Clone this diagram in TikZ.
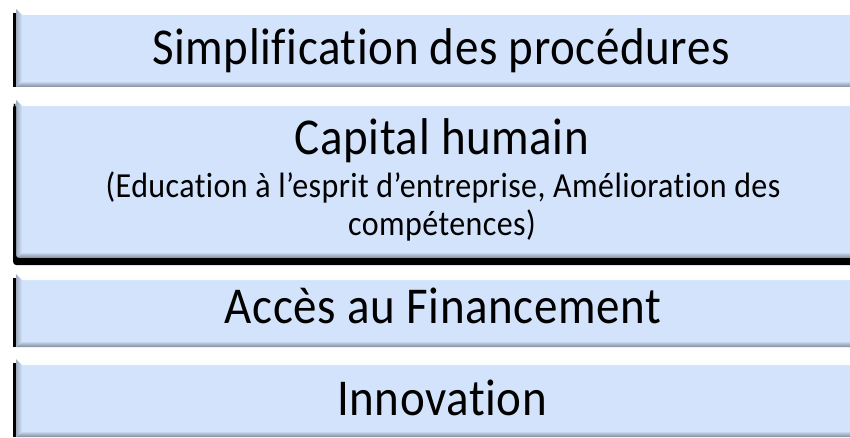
\documentclass[tikz,border=0pt]{standalone}
\usepackage{fontspec}
\setmainfont{Carlito}[Ligatures={NoCommon,NoContextual,NoRare}, LetterSpace=1.3]
\definecolor{boxblue}{RGB}{210,227,251}
\definecolor{bevdark}{RGB}{128,138,154}
\definecolor{bevleft}{RGB}{160,172,190}
\tikzset{
  bevelbox/.style={rectangle, inner sep=0pt, outer sep=0pt, fill=boxblue, anchor=north west,
    minimum width=880pt,
    path picture={
      \shade[top color=white, bottom color=boxblue]
        (path picture bounding box.north west) -- (path picture bounding box.north east)
        -- ([yshift=-6pt]path picture bounding box.north east)
        -- ([shift={(6pt,-6pt)}]path picture bounding box.north west) -- cycle;
      \shade[top color=boxblue, bottom color=bevdark]
        (path picture bounding box.south west) -- ([shift={(6pt,6pt)}]path picture bounding box.south west)
        -- ([yshift=6pt]path picture bounding box.south east)
        -- (path picture bounding box.south east) -- cycle;
      \shade[left color=bevleft, right color=boxblue]
        (path picture bounding box.north west) -- ([shift={(6pt,-6pt)}]path picture bounding box.north west)
        -- ([shift={(6pt,6pt)}]path picture bounding box.south west)
        -- (path picture bounding box.south west) -- cycle;
    }},
  leftline/.style={line width=2.6pt, black},
  bigtext/.style={inner sep=0pt, anchor=base, font=\fontsize{47}{50}\selectfont},
  smalltext/.style={inner sep=0pt, anchor=base, font=\fontsize{32}{36}\selectfont},
}
\newcommand{\tallify}[1]{\scalebox{1}[1.1]{#1}}
\begin{document}
\begin{tikzpicture}[x=1pt, y=-1pt]
\useasboundingbox (0,0) rectangle (850,438);
\clip (0,0) rectangle (850,438);
\fill[white] (0,0) rectangle (850,438);

\node[bevelbox, minimum height=78pt] (b1) at (16,9) {};
\node[bevelbox, minimum height=158pt] (b2) at (16,100) {};
\node[bevelbox, minimum height=73pt] (b3) at (16,274) {};
\node[bevelbox, minimum height=78pt] (b4) at (16,359) {};

% dark left edges
\draw[leftline] ([shift={(-1.4pt,-4pt)}]b1.north west) -- ([xshift=-1.4pt]b1.south west);
\draw[leftline] ([shift={(-1.4pt,-4pt)}]b3.north west) -- ([xshift=-1.4pt]b3.south west);
\draw[leftline] ([shift={(-1.4pt,-4pt)}]b4.north west) -- ([xshift=-1.4pt]b4.south west);
% box 2 shadow (left and bottom)
\fill[black, rounded corners=3pt]
  ([shift={(-2.8pt,-4pt)}]b2.north west) -- ([shift={(-2.8pt,-7pt)}]b2.south west)
  -- ([yshift=-7pt]b2.south east) -- (b2.south east) -- (b2.south west)
  -- ([yshift=-4pt]b2.north west) -- cycle;

\node[bigtext] (t1) at (441,65) {\tallify{Simplification des procédures}};
\node[bigtext] (t2) at (442,155) {\tallify{Capital humain}};
\node[smalltext] (t3) at (443,198) {\tallify{(Education à l’esprit d’entreprise, Amélioration des}};
\node[smalltext] (t4) at (442,235) {\tallify{compétences)}};
\node[bigtext] (t5) at (443,323) {\tallify{Accès au Financement}};
\node[bigtext] (t6) at (442,415) {\tallify{Innovation}};
\end{tikzpicture}
\end{document}
